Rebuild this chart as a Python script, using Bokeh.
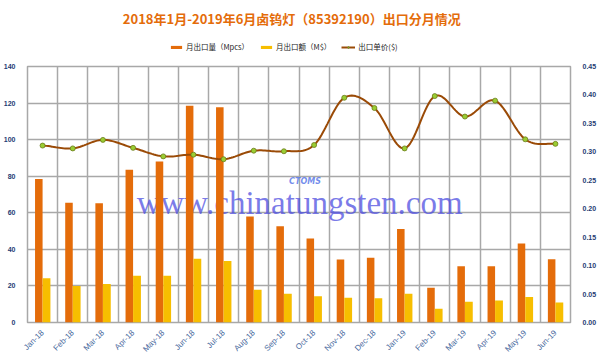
import numpy as np
from bokeh.plotting import figure
from bokeh.layouts import column
from bokeh.models import (Range1d, LinearAxis, FixedTicker, Legend, LegendItem,
                          Label, ColumnDataSource, NumeralTickFormatter)
from bokeh.transform import dodge
from bokeh.embed import file_html
from bokeh.resources import INLINE

months = ["Jan-18", "Feb-18", "Mar-18", "Apr-18", "May-18", "Jun-18", "Jul-18",
          "Aug-18", "Sep-18", "Oct-18", "Nov-18", "Dec-18", "Jan-19", "Feb-19",
          "Mar-19", "Apr-19", "May-19", "Jun-19"]
qty_mpcs = [78.5, 65.5, 65.2, 83.5, 88.0, 118.5, 117.7, 58.0, 52.6, 46.0, 34.4,
            35.4, 51.2, 19.0, 30.8, 30.8, 43.2, 34.6]
value_musd = [24.2, 20.0, 21.0, 25.5, 25.5, 34.8, 33.7, 17.9, 15.7, 14.4, 13.5,
              13.3, 15.7, 7.5, 11.3, 12.0, 13.9, 10.9]
unit_price = [0.311, 0.306, 0.321, 0.307, 0.292, 0.295, 0.287, 0.302, 0.301,
              0.312, 0.395, 0.377, 0.306, 0.398, 0.362, 0.390, 0.322, 0.314]
left_ticks = [0, 20, 40, 60, 80, 100, 120, 140]
right_ticks = [0.0, 0.05, 0.10, 0.15, 0.20, 0.25, 0.30, 0.35, 0.40, 0.45]

title_text = "2018年1月-2019年6月卤钨灯（85392190）出口分月情况"
legend_labels = ["月出口量（Mpcs）", "月出口额（M$）", "出口单价($)"]

ORANGE = "#E46C0A"
YELLOW = "#F7BE00"
BROWN = "#9A4A06"
NAVY = "#1F3C74"
GRID = "#A8A8A8"
DOT = "#9ACD32"
DOT_EDGE = "#6B7B1A"

n = len(months)
centers = np.arange(n) + 0.5


def smooth_curve(xs, ys, steps=16):
    """Catmull-Rom style smoothing used only to render the line through the data points."""
    xs = np.asarray(xs, float)
    ys = np.asarray(ys, float)
    px = np.concatenate([[2 * xs[0] - xs[1]], xs, [2 * xs[-1] - xs[-2]]])
    py = np.concatenate([[ys[0]], ys, [ys[-1]]])
    ox, oy = [], []
    for i in range(1, len(px) - 2):
        t = np.linspace(0, 1, steps, endpoint=False)
        for arr, out in ((px, ox), (py, oy)):
            p0, p1, p2, p3 = arr[i - 1], arr[i], arr[i + 1], arr[i + 2]
            m1 = (p2 - p0) / 2.0
            m2 = (p3 - p1) / 2.0
            h00 = 2 * t**3 - 3 * t**2 + 1
            h10 = t**3 - 2 * t**2 + t
            h01 = -2 * t**3 + 3 * t**2
            h11 = t**3 - t**2
            out.extend(h00 * p1 + h10 * m1 + h01 * p2 + h11 * m2)
    ox.append(xs[-1])
    oy.append(ys[-1])
    return ox, oy


# ---------- header (title + legend) ----------
head = figure(width=600, height=60, output_backend="svg", toolbar_location=None,
              x_range=Range1d(0, 600), y_range=Range1d(0, 60),
              min_border=0, x_axis_location=None, y_axis_location=None)
head.outline_line_color = None
head.grid.visible = False
head.background_fill_color = "white"
head.border_fill_color = "white"

head.add_layout(Label(x=292, y=42, text=title_text, text_font="Noto Sans CJK SC",
                      text_font_size="13px", text_font_style="bold", text_color=ORANGE,
                      text_align="center", text_baseline="middle"))

# legend proxies: single swatches kept outside the header's visible range
e_qty = head.quad(left=[-60], right=[-50], bottom=[0], top=[1], fill_color=ORANGE,
                  line_color=None)
e_val = head.quad(left=[-60], right=[-50], bottom=[0], top=[1], fill_color=YELLOW,
                  line_color=None)
e_line = head.line(x=[-60, -50], y=[1, 1], line_color=BROWN, line_width=2)
e_pts = head.scatter(x=[-50], y=[1], size=5, fill_color=DOT, line_color=DOT_EDGE,
                     line_width=0.8)

legend = Legend(items=[
    LegendItem(label=legend_labels[0], renderers=[e_qty]),
    LegendItem(label=legend_labels[1], renderers=[e_val]),
    LegendItem(label=legend_labels[2], renderers=[e_line, e_pts]),
], orientation="horizontal", location=(140, 6), label_text_font="Noto Sans CJK SC",
    label_text_font_size="7.5px", label_text_color="#222222", glyph_width=14, glyph_height=4,
    label_standoff=3, spacing=10, padding=2, margin=0, border_line_alpha=0,
    background_fill_alpha=0, label_height=8)
head.add_layout(legend)

# ---------- main chart ----------
p = figure(width=600, height=300, output_backend="svg", toolbar_location=None,
           x_range=Range1d(0, n), y_range=Range1d(0, 140),
           min_border_left=27, min_border_right=30, min_border_bottom=38,
           min_border_top=6)
p.background_fill_color = "white"
p.border_fill_color = "white"
p.outline_line_color = GRID
p.outline_line_width = 1.5

p.extra_y_ranges = {"right": Range1d(0, 0.45)}

src = ColumnDataSource(dict(x=centers, qty=qty_mpcs, val=value_musd, price=unit_price))

watermark = Label(x=3.62, y=65.5, text="www.chinatungsten.com", text_font="Liberation Serif",
                  text_font_size="33px", text_color="#4848E0", text_alpha=0.72,
                  text_baseline="alphabetic", level="underlay")
p.add_layout(watermark)
ctoms = Label(x=9.2, y=77, text="CTOMS", text_font="DejaVu Sans", text_font_style="bold italic",
              text_font_size="8px", text_color="#5A78E8", text_alpha=0.85,
              text_align="center", text_baseline="middle", level="underlay")
p.add_layout(ctoms)

p.vbar(x=dodge("x", -0.125), top="qty", width=0.25, source=src, fill_color=ORANGE,
       line_color=None)
p.vbar(x=dodge("x", 0.13), top="val", width=0.26, source=src, fill_color=YELLOW,
       line_color=None)

cx, cy = smooth_curve(centers, unit_price)
p.line(cx, cy, line_color=BROWN, line_width=2, y_range_name="right")
p.scatter("x", "price", source=src, size=5, fill_color=DOT, line_color=DOT_EDGE,
          line_width=0.8, y_range_name="right")

p.xaxis.ticker = FixedTicker(ticks=list(centers))
p.xaxis.major_label_overrides = {float(c): m for c, m in zip(centers, months)}
p.xaxis.major_label_orientation = np.pi / 4
p.xaxis.major_label_text_font = "Liberation Sans"
p.xaxis.major_label_text_font_size = "8px"
p.xaxis.major_label_text_color = "#4A6A9E"
p.xaxis.major_label_standoff = 3
p.xaxis.axis_line_color = None
p.xaxis.major_tick_line_color = None
p.xaxis.minor_tick_line_color = None

p.yaxis.ticker = FixedTicker(ticks=left_ticks)
p.yaxis.major_label_text_font = "Liberation Sans"
p.yaxis.major_label_text_font_size = "7px"
p.yaxis.major_label_text_font_style = "bold"
p.yaxis.major_label_text_color = NAVY
p.yaxis.major_label_standoff = 6
p.yaxis.axis_line_color = None
p.yaxis.major_tick_line_color = None
p.yaxis.minor_tick_line_color = None

raxis = LinearAxis(y_range_name="right", ticker=FixedTicker(ticks=right_ticks),
                   formatter=NumeralTickFormatter(format="0.00"))
raxis.major_label_text_font = "Liberation Sans"
raxis.major_label_text_font_size = "7px"
raxis.major_label_text_font_style = "bold"
raxis.major_label_text_color = NAVY
raxis.major_label_standoff = 6
raxis.axis_line_color = None
raxis.major_tick_line_color = None
raxis.minor_tick_line_color = None
p.add_layout(raxis, "right")

p.xgrid.ticker = FixedTicker(ticks=list(range(n + 1)))
p.xgrid.grid_line_color = GRID
p.xgrid.grid_line_width = 1.5
p.ygrid.grid_line_color = GRID
p.ygrid.grid_line_width = 1.5

layout = column(head, p, spacing=0)
open("out.html", "w").write(file_html(layout, INLINE))
